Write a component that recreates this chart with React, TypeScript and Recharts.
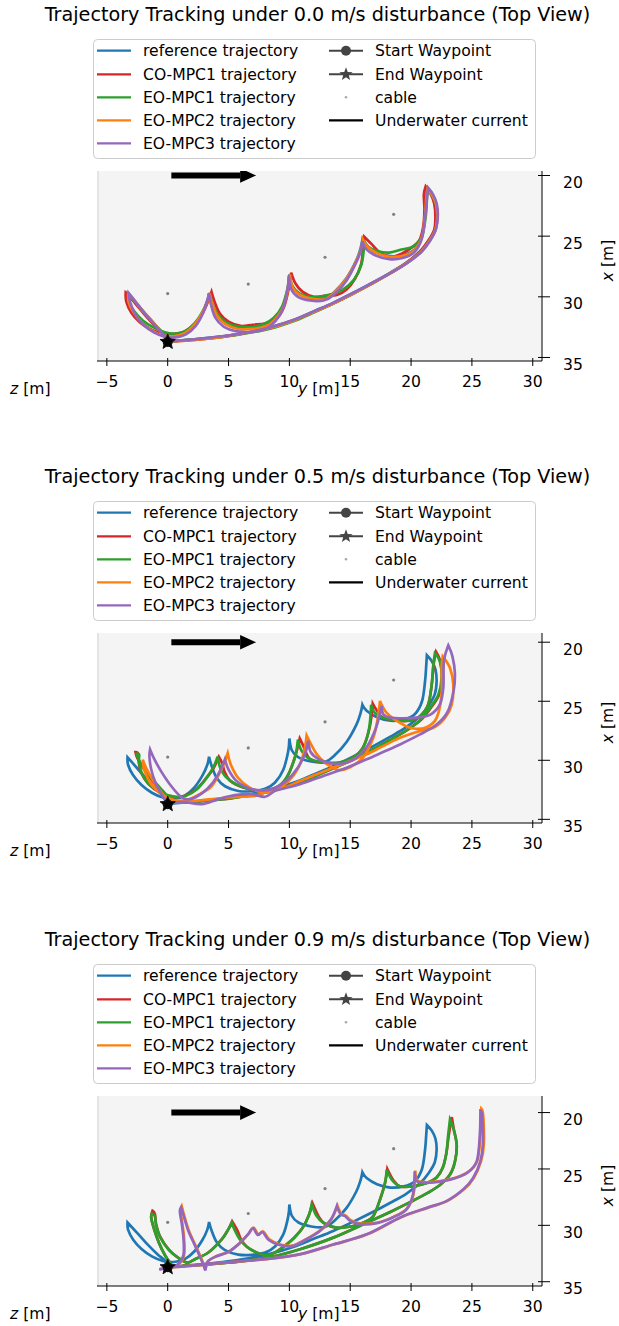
import React from 'react';
import { ComposedChart, Line, Scatter, XAxis, YAxis, CartesianGrid } from 'recharts';

// ---------- colours ----------
const BLUE = '#1f77b4';
const RED = '#d62728';
const GREEN = '#2ca02c';
const ORANGE = '#ff7f0e';
const PURPLE = '#9467bd';
const FONT = "'DejaVu Sans', 'Liberation Sans', sans-serif";
const LINE_W = 2.7;

// ---------- axis ticks ----------
const Y_TICKS = [-5, 0, 5, 10, 15, 20, 25, 30];
const X_TICKS = [20, 25, 30, 35];

// ---------- fixed scene elements, [y, x] in metres ----------
const cablePoints: [number, number][] = [[0.0, 29.73], [6.62, 28.95], [12.93, 26.74], [18.57, 23.2]];
const startWaypoint: [number, number][] = [[0.0, 33.72]];
const endWaypoint: [number, number][] = [[0.0, 33.72]];
const currentArrow: [number, number][] = [[0.3, 20.0], [5.95, 20.0]];

// ---------- reference trajectory (identical in every scenario) ----------
const referencePath: [number, number][] = [
  [0.0, 33.7], [-0.25, 33.1], [-0.8, 32.6], [-1.6, 31.75], [-2.4, 30.8], [-3.0, 30.1], [-3.3, 29.75],
  [-3.25, 30.4], [-2.85, 31.25], [-2.15, 32.1], [-1.3, 32.75], [-0.4, 33.15], [0.5, 33.25], [1.4, 33.0],
  [2.2, 32.3], [2.85, 31.3], [3.25, 30.4], [3.4, 29.7],
  [3.62, 30.5], [4.03, 31.5], [4.71, 32.2], [5.8, 32.6], [6.9, 32.62], [8.0, 32.42], [8.82, 31.88],
  [9.5, 30.8], [9.9, 29.25], [10.0, 28.15],
  [10.2, 29.15], [10.75, 29.75], [11.8, 30.1], [12.9, 30.15], [13.7, 29.6], [14.7, 28.45], [15.5, 27.0],
  [15.85, 26.0], [16.0, 25.3],
  [16.35, 25.8], [17.2, 26.35], [18.3, 26.65], [19.4, 26.55], [20.3, 26.1], [20.9, 25.0], [21.15, 23.3],
  [21.25, 21.9], [21.3, 21.1],
  [21.7, 21.6], [22.0, 22.3], [22.1, 23.3], [21.95, 24.4], [21.45, 25.35], [20.75, 26.25],
  [19.6, 27.2], [18.3, 28.0], [16.9, 28.8], [15.3, 29.65], [13.6, 30.5], [12.0, 31.2], [10.5, 31.85],
  [8.5, 32.5], [6.5, 32.95], [4.5, 33.25], [2.2, 33.5], [0.0, 33.7],
];

// ---------- 0.0 m/s ----------
const coMpc1_00: [number, number][] = [
  [0.0, 33.7], [-0.3, 33.1], [-0.9, 32.55], [-1.7, 31.7], [-2.5, 30.75], [-3.1, 30.0], [-3.45, 29.65],
  [-3.4, 30.4], [-3.0, 31.3], [-2.3, 32.1], [-1.4, 32.7], [-0.5, 33.0], [0.4, 33.05], [1.3, 32.9],
  [2.2, 32.25], [2.9, 31.3], [3.35, 30.3], [3.6, 29.6],
  [3.85, 30.4], [4.3, 31.4], [5.0, 32.05], [6.0, 32.4], [7.0, 32.3], [8.0, 32.2], [8.9, 31.85],
  [9.55, 30.85], [9.95, 29.3], [10.15, 28.0],
  [10.5, 28.9], [11.1, 29.6], [12.0, 30.0], [13.0, 29.9], [13.9, 29.85], [14.7, 29.4], [15.4, 28.5],
  [15.9, 27.3], [16.05, 26.0], [16.15, 25.05],
  [16.8, 25.7], [17.5, 26.4], [18.4, 26.7], [19.3, 26.4], [20.1, 25.9], [20.7, 25.3], [21.0, 24.2],
  [21.1, 22.8], [21.05, 21.6], [21.2, 20.9],
  [21.6, 21.5], [21.9, 22.3], [22.0, 23.4], [21.9, 24.5], [21.4, 25.4], [20.7, 26.3],
  [19.6, 27.2], [18.3, 28.05], [16.9, 28.85], [15.3, 29.7], [13.6, 30.55], [12.0, 31.25], [10.5, 31.9],
  [8.5, 32.55], [6.5, 32.95], [4.5, 33.3], [2.2, 33.55], [0.0, 33.7],
];
const eoMpc1_00: [number, number][] = [
  [0.0, 33.7], [-0.2, 33.15], [-0.7, 32.65], [-1.5, 31.8], [-2.3, 30.85], [-2.95, 30.1], [-3.2, 29.8],
  [-3.15, 30.45], [-2.75, 31.2], [-2.05, 31.95], [-1.2, 32.5], [-0.3, 32.9], [0.5, 33.05], [1.4, 32.85],
  [2.2, 32.2], [2.85, 31.25], [3.25, 30.35], [3.45, 29.7],
  [3.65, 30.5], [4.1, 31.45], [4.8, 32.1], [5.8, 32.45], [6.9, 32.5], [7.9, 32.25], [8.7, 31.75],
  [9.4, 30.8], [9.85, 29.3], [10.0, 28.2],
  [10.25, 29.1], [10.8, 29.7], [11.6, 30.0], [12.5, 30.0], [13.4, 29.8], [14.4, 29.4], [15.3, 28.6],
  [15.9, 27.4], [16.1, 26.2], [16.1, 25.3],
  [16.5, 25.9], [17.3, 26.25], [18.2, 26.35], [19.2, 26.1], [20.2, 25.85], [20.9, 25.0], [21.2, 23.4],
  [21.3, 22.0], [21.35, 21.2],
  [21.75, 21.7], [22.05, 22.4], [22.15, 23.4], [22.0, 24.5], [21.5, 25.4], [20.8, 26.3],
  [19.6, 27.25], [18.3, 28.05], [16.9, 28.85], [15.3, 29.7], [13.6, 30.55], [12.0, 31.3], [10.5, 31.95],
  [8.5, 32.6], [6.5, 33.0], [4.5, 33.3], [2.2, 33.5], [0.0, 33.7],
];
const eoMpc2_00: [number, number][] = [
  [0.0, 33.7], [-0.5, 33.0], [-0.9, 32.45], [-1.35, 31.9], [-2.15, 31.05], [-2.95, 30.0], [-3.25, 29.75],
  [-3.2, 30.45], [-2.8, 31.3], [-2.1, 32.15], [-1.25, 32.8], [-0.35, 33.2], [0.5, 33.25], [1.4, 33.0],
  [2.2, 32.3], [2.85, 31.3], [3.25, 30.4], [3.45, 29.7],
  [3.65, 30.55], [4.05, 31.55], [4.75, 32.25], [5.8, 32.65], [6.9, 32.65], [8.0, 32.45], [8.8, 31.9],
  [9.5, 30.85], [9.9, 29.3], [10.05, 28.15],
  [10.25, 29.2], [10.8, 29.8], [11.8, 30.15], [12.9, 30.2], [13.7, 29.65], [14.7, 28.5], [15.5, 27.05],
  [15.9, 26.0], [16.05, 25.3],
  [16.4, 25.85], [17.2, 26.4], [18.3, 26.7], [19.4, 26.6], [20.3, 26.15], [20.9, 25.05], [21.15, 23.3],
  [21.25, 21.9], [21.35, 21.1],
  [21.75, 21.65], [22.05, 22.35], [22.15, 23.35], [22.0, 24.45], [21.5, 25.4], [20.8, 26.3],
  [19.6, 27.25], [18.3, 28.05], [16.9, 28.85], [15.3, 29.7], [13.6, 30.55], [12.0, 31.25], [10.5, 31.9],
  [8.5, 32.55], [6.5, 32.95], [4.5, 33.3], [2.2, 33.55], [0.0, 33.7],
];
const eoMpc3_00: [number, number][] = [
  [0.0, 33.75], [-0.3, 33.15], [-0.9, 32.5], [-1.7, 31.6], [-2.5, 30.6], [-3.0, 29.95], [-3.2, 29.7],
  [-3.1, 30.4], [-2.7, 31.4], [-2.0, 32.3], [-1.1, 32.95], [-0.2, 33.3], [0.6, 33.35], [1.5, 33.1],
  [2.3, 32.4], [2.9, 31.35], [3.25, 30.3], [3.4, 29.7],
  [3.55, 30.6], [3.9, 31.7], [4.6, 32.45], [5.7, 32.85], [6.9, 32.9], [8.0, 32.65], [8.85, 32.0],
  [9.5, 30.9], [9.85, 29.4], [9.95, 28.25],
  [10.15, 29.35], [10.7, 30.0], [11.7, 30.3], [12.8, 30.3], [13.7, 29.8], [14.7, 28.65], [15.5, 27.15],
  [15.9, 26.1], [16.0, 25.4],
  [16.3, 26.05], [17.1, 26.6], [18.2, 26.9], [19.3, 26.8], [20.3, 26.3], [20.9, 25.15], [21.15, 23.4],
  [21.3, 21.9], [21.4, 21.0],
  [21.8, 21.55], [22.1, 22.3], [22.2, 23.3], [22.05, 24.4], [21.55, 25.4], [20.85, 26.3],
  [19.7, 27.2], [18.3, 28.05], [16.9, 28.8], [15.3, 29.65], [13.6, 30.5], [12.0, 31.2], [10.5, 31.85],
  [8.5, 32.5], [6.5, 32.95], [4.5, 33.25], [2.2, 33.5], [0.0, 33.7],
];

// ---------- 0.5 m/s ----------
const coMpc1_05: [number, number][] = [
  [0.2, 33.65], [-0.2, 33.0], [-0.8, 32.3], [-1.5, 31.4], [-2.1, 30.5], [-2.5, 29.8], [-2.65, 29.3],
  [-2.45, 29.4], [-2.4, 30.0], [-2.2, 31.0], [-1.6, 32.0], [-0.6, 32.75], [0.5, 33.1], [1.4, 33.0],
  [2.3, 32.5], [3.1, 31.6], [3.75, 30.7], [4.2, 29.7],
  [4.5, 30.3], [4.65, 30.9], [5.1, 31.7], [6.2, 32.3], [7.6, 32.55], [8.95, 32.3], [9.8, 31.45],
  [10.45, 29.75], [10.85, 28.15],
  [11.15, 28.8], [11.35, 29.3], [11.7, 29.9], [12.8, 30.2], [14.2, 30.2], [15.25, 29.75], [16.05, 28.9],
  [16.6, 27.2], [16.85, 25.2],
  [17.2, 25.8], [17.7, 26.4], [18.8, 26.65], [19.9, 26.65], [20.75, 26.3], [21.4, 25.3], [21.7, 23.6],
  [21.85, 21.9], [22.05, 20.8],
  [22.4, 21.6], [22.55, 23.0], [22.3, 24.45], [21.6, 25.6], [20.9, 26.5],
  [19.8, 27.35], [18.5, 28.15], [17.1, 28.95], [15.5, 29.8], [13.8, 30.6], [12.2, 31.3], [10.6, 31.95],
  [8.6, 32.6], [6.6, 33.0], [4.6, 33.3], [2.3, 33.5], [0.3, 33.6],
];
const eoMpc1_05: [number, number][] = [
  [0.2, 33.65], [-0.1, 32.95], [-0.7, 32.25], [-1.5, 31.3], [-2.1, 30.45], [-2.45, 29.8], [-2.55, 29.45],
  [-2.35, 29.5], [-2.35, 30.1], [-2.15, 31.05], [-1.55, 32.0], [-0.5, 32.75], [0.6, 33.1], [1.5, 33.0],
  [2.4, 32.45], [3.15, 31.55], [3.75, 30.6], [4.1, 29.7],
  [4.4, 30.85], [5.1, 31.7], [6.2, 32.28], [7.6, 32.56], [8.96, 32.28], [9.78, 31.44], [10.46, 29.75],
  [10.7, 28.25],
  [11.0, 29.19], [11.69, 29.89], [12.79, 30.17], [14.16, 30.17], [15.25, 29.75], [16.07, 28.91],
  [16.55, 27.3], [16.72, 25.3],
  [17.03, 25.99], [17.72, 26.41], [18.82, 26.63], [19.91, 26.63], [20.73, 26.27], [21.41, 25.29],
  [21.69, 23.6], [21.83, 21.92], [21.96, 20.93],
  [22.37, 21.64], [22.51, 23.04], [22.24, 24.44], [21.55, 25.56], [20.9, 26.45],
  [19.8, 27.35], [18.5, 28.15], [17.1, 28.95], [15.5, 29.8], [13.8, 30.6], [12.2, 31.3], [10.6, 31.95],
  [8.6, 32.6], [6.6, 33.0], [4.6, 33.3], [2.3, 33.5], [0.3, 33.6],
];
const eoMpc2_05: [number, number][] = [
  [0.2, 33.6], [-0.5, 32.75], [-1.2, 31.7], [-1.75, 30.7], [-2.05, 29.95],
  [-1.9, 30.9], [-1.3, 32.1], [-0.4, 32.95], [0.6, 33.4], [1.6, 33.35], [2.4, 33.0], [3.6, 32.2],
  [4.4, 30.8], [4.93, 29.4],
  [5.2, 30.4], [5.8, 31.5], [6.7, 32.3], [7.8, 32.7], [8.9, 32.5], [9.9, 31.8], [10.7, 30.7],
  [11.2, 29.3], [11.42, 27.9],
  [12.24, 29.47], [13.06, 30.31], [14.02, 30.82], [14.98, 30.59], [16.07, 29.75], [16.9, 28.07],
  [17.25, 26.5], [17.45, 24.97],
  [18.0, 25.98], [19.09, 26.83], [20.18, 27.31], [21.28, 27.2], [22.1, 26.41], [22.51, 24.44],
  [22.51, 22.19], [22.6, 21.2],
  [23.2, 22.19], [23.47, 23.6], [23.34, 25.29], [22.79, 26.41], [21.83, 27.25], [20.46, 27.6],
  [19.09, 28.1], [17.7, 28.8], [16.35, 29.5], [15.0, 30.05], [13.61, 30.62], [12.2, 31.2],
  [10.87, 31.75], [9.5, 32.35], [8.0, 32.72], [7.17, 33.01], [5.0, 33.15], [2.24, 33.43], [0.2, 33.6],
];
const eoMpc3_05: [number, number][] = [
  [0.0, 33.7], [-0.5, 32.9], [-1.0, 31.9], [-1.35, 30.8], [-1.5, 29.7], [-1.45, 29.08],
  [-1.1, 29.9], [-0.5, 31.0], [0.3, 32.2], [1.1, 33.1], [1.8, 33.3], [2.8, 32.8], [3.7, 31.9],
  [4.3, 30.9], [4.7, 29.92],
  [5.0, 30.8], [5.6, 31.7], [6.5, 32.3], [7.6, 32.55], [8.7, 32.4], [9.8, 31.7], [10.7, 30.6],
  [11.3, 29.4], [11.55, 28.34],
  [11.75, 29.3], [12.4, 29.9], [13.4, 30.25], [14.5, 30.25], [15.5, 29.8], [16.4, 28.8], [17.1, 27.3],
  [17.45, 26.0], [17.58, 25.4],
  [17.72, 26.1], [18.27, 26.38], [19.36, 26.44], [20.46, 26.38], [21.55, 26.15], [22.37, 25.26],
  [22.65, 23.85], [22.7, 21.6], [23.06, 20.26],
  [23.4, 21.2], [23.6, 22.6], [23.5, 24.1], [23.0, 25.9], [22.1, 26.97], [20.73, 27.81],
  [19.09, 28.66], [17.7, 29.3], [16.35, 29.92], [15.0, 30.5], [13.61, 31.04], [12.2, 31.55],
  [10.87, 32.03], [9.7, 32.35], [8.82, 32.59], [8.0, 33.09], [6.9, 32.87], [5.53, 32.95],
  [4.16, 33.29], [2.79, 33.71], [1.15, 33.52], [-0.08, 33.71],
];

// ---------- 0.9 m/s ----------
const coMpc1_09: [number, number][] = [
  [0.3, 33.5], [-0.2, 32.7], [-0.7, 31.6], [-1.1, 30.4], [-1.35, 29.3], [-1.25, 28.7],
  [-1.05, 29.0], [-0.95, 29.9], [-0.6, 31.05], [0.1, 32.15], [0.9, 32.9], [1.6, 33.3], [2.24, 33.0],
  [3.34, 32.41], [4.44, 31.24], [4.98, 30.36], [5.3, 29.65],
  [5.75, 30.5], [6.0, 31.2], [6.5, 31.9], [7.3, 32.4], [8.2, 32.65], [8.9, 32.35], [9.7, 31.75],
  [10.4, 31.1], [11.1, 30.2], [11.6, 29.1], [11.9, 28.05],
  [12.4, 29.2], [12.85, 29.8], [13.89, 30.21], [15.25, 30.06], [16.2, 29.7], [16.9, 29.18],
  [17.45, 27.71], [17.86, 26.24], [18.05, 25.0],
  [18.55, 26.0], [19.1, 26.55], [20.18, 26.53], [21.28, 26.24], [22.1, 25.75], [22.6, 24.9],
  [22.9, 23.6], [23.1, 22.0], [23.35, 20.4],
  [23.5, 21.4], [23.75, 22.85], [23.61, 24.33], [23.2, 25.5], [22.4, 26.4], [21.4, 27.1],
  [20.0, 27.9], [18.5, 28.7], [16.35, 29.77], [13.61, 31.09], [10.87, 32.12], [8.5, 32.8],
  [6.0, 33.2], [3.5, 33.45], [1.2, 33.6],
];
const eoMpc1_09: [number, number][] = [
  [0.3, 33.5], [-0.2, 32.7], [-0.7, 31.6], [-1.1, 30.4], [-1.35, 29.4], [-1.3, 28.95],
  [-1.05, 29.2], [-0.95, 30.0], [-0.6, 31.1], [0.1, 32.2], [0.9, 32.9], [1.6, 33.3], [2.24, 33.0],
  [3.34, 32.41], [4.44, 31.24], [4.98, 30.36], [5.26, 29.77],
  [5.5, 30.4], [5.9, 31.2], [6.5, 31.9], [7.3, 32.4], [8.2, 32.65], [8.9, 32.35], [9.7, 31.75],
  [10.4, 31.1], [11.1, 30.2], [11.6, 29.1], [11.83, 28.15],
  [12.24, 29.18], [12.79, 29.77], [13.89, 30.21], [15.25, 30.06], [16.2, 29.7], [16.9, 29.18],
  [17.45, 27.71], [17.86, 26.24], [18.0, 25.06],
  [18.41, 25.94], [19.09, 26.53], [20.18, 26.53], [21.28, 26.24], [22.1, 25.75], [22.6, 24.9],
  [22.9, 23.6], [23.05, 22.0], [23.2, 20.6],
  [23.47, 21.38], [23.75, 22.85], [23.61, 24.33], [23.2, 25.5], [22.4, 26.4], [21.4, 27.1],
  [20.0, 27.9], [18.5, 28.7], [16.35, 29.77], [13.61, 31.09], [10.87, 32.12], [8.5, 32.8],
  [6.0, 33.2], [3.5, 33.45], [1.2, 33.6],
];
const eoMpc2_09: [number, number][] = [
  [-0.7, 33.88], [0.2, 33.72], [0.95, 33.4], [1.35, 32.6], [1.35, 31.2], [1.2, 29.8], [1.05, 28.8],
  [1.15, 28.3],
  [1.4, 29.3], [1.75, 30.5], [2.25, 31.7], [2.75, 32.9], [3.1, 33.95],
  [3.35, 33.15], [4.05, 32.72], [5.05, 32.32], [5.95, 31.55], [6.65, 30.75], [7.05, 30.2],
  [7.45, 30.8], [7.85, 30.55], [8.35, 31.25], [9.25, 31.7], [10.25, 31.8], [11.35, 31.25],
  [12.55, 30.45], [13.45, 29.45], [13.95, 28.25],
  [14.25, 28.95], [14.65, 29.15], [15.05, 29.55], [15.85, 29.85], [17.25, 29.75], [18.55, 29.25],
  [19.65, 28.55], [20.2, 27.25], [20.35, 25.15],
  [20.45, 25.95], [20.85, 26.15], [21.85, 26.15], [23.25, 25.9], [24.65, 25.3], [25.45, 24.25],
  [25.7, 21.95], [25.78, 19.65],
  [25.93, 20.3], [25.98, 22.8], [25.75, 24.3], [25.15, 25.8], [24.35, 26.8], [22.95, 27.85],
  [21.35, 28.45], [19.15, 29.3], [16.4, 30.8], [13.65, 31.7], [10.95, 32.55], [8.05, 33.0],
  [4.65, 33.3], [1.85, 33.6], [-0.05, 33.75],
];
const eoMpc3_09: [number, number][] = [
  [-0.7, 33.9], [0.2, 33.75], [0.9, 33.4], [1.3, 32.6], [1.3, 31.2], [1.15, 29.8], [1.0, 28.8],
  [1.1, 28.4],
  [1.35, 29.3], [1.7, 30.5], [2.2, 31.7], [2.7, 32.9], [3.1, 34.0],
  [3.3, 33.2], [4.0, 32.75], [5.0, 32.35], [5.9, 31.6], [6.6, 30.8], [7.0, 30.25],
  [7.4, 30.85], [7.8, 30.6], [8.3, 31.3], [9.2, 31.75], [10.2, 31.85], [11.3, 31.3], [12.5, 30.5],
  [13.4, 29.5], [13.9, 28.3],
  [14.2, 29.0], [14.6, 29.2], [15.0, 29.6], [15.8, 29.9], [17.2, 29.8], [18.5, 29.3], [19.6, 28.6],
  [20.15, 27.3], [20.3, 25.2],
  [20.4, 26.0], [20.8, 26.2], [21.8, 26.2], [23.2, 25.95], [24.6, 25.35], [25.4, 24.3], [25.65, 22.0],
  [25.7, 19.8],
  [25.85, 20.3], [25.9, 22.8], [25.7, 24.3], [25.1, 25.8], [24.3, 26.8], [22.9, 27.85], [21.3, 28.45],
  [19.1, 29.3], [16.35, 30.8], [13.6, 31.7], [10.9, 32.55], [8.0, 33.0], [4.6, 33.3], [1.8, 33.6],
  [-0.1, 33.75],
];

// ---------- legend text ----------
const trajectoryLegend = [
  { name: 'reference trajectory', color: BLUE },
  { name: 'CO-MPC1 trajectory', color: RED },
  { name: 'EO-MPC1 trajectory', color: GREEN },
  { name: 'EO-MPC2 trajectory', color: ORANGE },
  { name: 'EO-MPC3 trajectory', color: PURPLE },
];
const markerLegend = ['Start Waypoint', 'End Waypoint', 'cable', 'Underwater current'];

type Pt = { y: number; x: number };
const toPts = (arr: [number, number][]): Pt[] => arr.map(([y, x]) => ({ y, x }));

const scenarios = [
  {
    title: 'Trajectory Tracking under 0.0 m/s disturbance (Top View)',
    top: 0,
    xDomain: [19.63, 35.29],
    runs: [coMpc1_00, eoMpc1_00, eoMpc2_00, eoMpc3_00],
  },
  {
    title: 'Trajectory Tracking under 0.5 m/s disturbance (Top View)',
    top: 462,
    xDomain: [19.22, 35.31],
    runs: [coMpc1_05, eoMpc1_05, eoMpc2_05, eoMpc3_05],
  },
  {
    title: 'Trajectory Tracking under 0.9 m/s disturbance (Top View)',
    top: 925,
    xDomain: [18.53, 35.38],
    runs: [coMpc1_09, eoMpc1_09, eoMpc2_09, eoMpc3_09],
  },
];

// Catmull-Rom style curve that keeps sharp turns (cusps) as corners.
const cuspCurve: any = (context: any) => {
  let pts: number[][] = [];
  return {
    areaStart() {},
    areaEnd() {},
    lineStart() {
      pts = [];
    },
    point(x: number, y: number) {
      pts.push([+x, +y]);
    },
    lineEnd() {
      const n = pts.length;
      if (!n) return;
      const tang = pts.map((p, i) => {
        const a = pts[i - 1] || p;
        const b = pts[i + 1] || p;
        const d1x = p[0] - a[0], d1y = p[1] - a[1];
        const d2x = b[0] - p[0], d2y = b[1] - p[1];
        const l1 = Math.hypot(d1x, d1y), l2 = Math.hypot(d2x, d2y);
        if (l1 > 0 && l2 > 0 && d1x * d2x + d1y * d2y < -0.45 * l1 * l2) return [0, 0];
        return [(b[0] - a[0]) / 6, (b[1] - a[1]) / 6];
      });
      context.moveTo(pts[0][0], pts[0][1]);
      for (let i = 0; i < n - 1; i++) {
        const p1 = pts[i], p2 = pts[i + 1];
        context.bezierCurveTo(
          p1[0] + tang[i][0], p1[1] + tang[i][1],
          p2[0] - tang[i + 1][0], p2[1] - tang[i + 1][1],
          p2[0], p2[1],
        );
      }
    },
  };
};

const starPath = (cx: number, cy: number, r: number) => {
  const inner = r * 0.42;
  let d = '';
  for (let i = 0; i < 10; i++) {
    const rad = i % 2 === 0 ? r : inner;
    const ang = -Math.PI / 2 + (i * Math.PI) / 5;
    d += `${i === 0 ? 'M' : 'L'}${(cx + rad * Math.cos(ang)).toFixed(2)},${(cy + rad * Math.sin(ang)).toFixed(2)}`;
  }
  return d + 'Z';
};

const fmt = (v: number) => (v < 0 ? `\u2212${Math.abs(v)}` : `${v}`);

const BottomTick = (props: any) => {
  const { x, y, payload } = props;
  return (
    <g>
      <line x1={x} x2={x} y1={y - 3} y2={y + 5} stroke="#000" strokeWidth={1} />
      <text x={x} y={y + 26} textAnchor="middle" fontSize={15.6} fontFamily={FONT} fill="#000">
        {fmt(payload.value)}
      </text>
    </g>
  );
};

const RightTick = (props: any) => {
  const { x, y, payload } = props;
  return (
    <g>
      <line x1={x - 4} x2={x + 8} y1={y} y2={y} stroke="#000" strokeWidth={1} />
      <text x={x + 21} y={y + 12.6} textAnchor="start" fontSize={15.6} fontFamily={FONT} fill="#000">
        {fmt(payload.value)}
      </text>
    </g>
  );
};

const arrowHead = (props: any) => {
  const { cx, cy, index } = props;
  if (index !== 1 || cx == null) return <g key={`ah-${index}`} />;
  return <path key={`ah-${index}`} d={`M${cx},${cy - 7.3}L${cx + 16},${cy}L${cx},${cy + 7.3}Z`} fill="#000" />;
};

const Overlay = ({ title }: { title: string }) => {
  const rowsY = [50.7, 74.3, 97.3, 120.3, 143.3];
  return (
    <svg width={619} height={462} style={{ position: 'absolute', left: 0, top: 0, pointerEvents: 'none' }}>
      <text x={317.5} y={21} textAnchor="middle" fontSize={19.2} fontFamily={FONT} fill="#000">
        {title}
      </text>
      <rect x={93.5} y={39.5} width={442} height={119} rx={4} fill="#fff" fillOpacity={0.8} stroke="#cccccc" />
      {trajectoryLegend.map((s, i) => (
        <g key={s.name}>
          <line x1={97} x2={131} y1={rowsY[i]} y2={rowsY[i]} stroke={s.color} strokeWidth={2.2} />
          <text x={143} y={rowsY[i] + 5.6} fontSize={15.6} fontFamily={FONT} fill="#000">
            {s.name}
          </text>
        </g>
      ))}
      <line x1={329} x2={363} y1={rowsY[0]} y2={rowsY[0]} stroke="#444" strokeWidth={2} />
      <circle cx={346} cy={rowsY[0]} r={5} fill="#444" />
      <line x1={329} x2={363} y1={rowsY[1]} y2={rowsY[1]} stroke="#444" strokeWidth={2} />
      <path d={starPath(346, rowsY[1], 7)} fill="#444" />
      <circle cx={346} cy={rowsY[2]} r={1.3} fill="#aaa" />
      <line x1={329} x2={363} y1={rowsY[3]} y2={rowsY[3]} stroke="#000" strokeWidth={2.2} />
      {markerLegend.map((name, i) => (
        <text key={name} x={375} y={rowsY[i] + 5.6} fontSize={15.6} fontFamily={FONT} fill="#000">
          {name}
        </text>
      ))}
      <text x={10} y={394} fontSize={15.6} fontFamily={FONT} fill="#000">
        <tspan fontStyle="italic">z</tspan> [m]
      </text>
      <text x={298} y={394} fontSize={15.6} fontFamily={FONT} fill="#000">
        <tspan fontStyle="italic">y</tspan> [m]
      </text>
      <text
        x={608}
        y={260.5}
        dy="0.35em"
        textAnchor="middle"
        transform="rotate(-90 608 260.5)"
        fontSize={15.6}
        fontFamily={FONT}
        fill="#000"
      >
        <tspan fontStyle="italic">x</tspan> [m]
      </text>
    </svg>
  );
};

const runColors = [RED, GREEN, ORANGE, PURPLE];

const Panel = ({ cfg }: { cfg: (typeof scenarios)[number] }) => (
  <div style={{ position: 'absolute', left: 0, top: cfg.top, width: 619, height: 462 }}>
    <ComposedChart width={619} height={462} margin={{ top: 171, right: 0, bottom: 61, left: 97 }}>
      <CartesianGrid
        horizontal={false}
        vertical
        verticalPoints={[98]}
        stroke="#e4e4e4"
        strokeWidth={2}
        fill="#f4f4f4"
      />
      <XAxis
        type="number"
        dataKey="y"
        domain={[-5.81, 30.76]}
        allowDataOverflow
        ticks={Y_TICKS}
        interval={0}
        height={40}
        tickSize={0}
        tickMargin={0}
        tickLine={false}
        axisLine={{ stroke: '#000', strokeWidth: 1 }}
        tick={(p: any) => <BottomTick {...p} />}
      />
      <YAxis
        type="number"
        dataKey="x"
        orientation="right"
        reversed
        domain={cfg.xDomain}
        allowDataOverflow
        ticks={X_TICKS}
        interval={0}
        width={77}
        tickSize={0}
        tickMargin={0}
        tickLine={false}
        axisLine={{ stroke: '#000', strokeWidth: 1 }}
        tick={(p: any) => <RightTick {...p} />}
      />
      <Line
        data={toPts(referencePath)}
        dataKey="x"
        stroke={BLUE}
        strokeWidth={LINE_W}
        dot={false}
        type={cuspCurve}
        isAnimationActive={false}
      />
      {cfg.runs.map((run, i) => (
        <Line
          key={i}
          data={toPts(run)}
          dataKey="x"
          stroke={runColors[i]}
          strokeWidth={LINE_W}
          dot={false}
          type={cuspCurve}
          isAnimationActive={false}
        />
      ))}
      <Line
        data={toPts(currentArrow)}
        dataKey="x"
        stroke="#000"
        strokeWidth={6}
        type="linear"
        dot={arrowHead}
        isAnimationActive={false}
      />
      <Scatter
        data={toPts(cablePoints)}
        isAnimationActive={false}
        shape={(p: any) => <circle cx={p.cx} cy={p.cy} r={1.6} fill="#808080" />}
      />
      <Scatter
        data={toPts(startWaypoint)}
        isAnimationActive={false}
        shape={(p: any) => <circle cx={p.cx} cy={p.cy} r={5} fill="#111" />}
      />
      <Scatter
        data={toPts(endWaypoint)}
        isAnimationActive={false}
        shape={(p: any) => <path d={starPath(p.cx, p.cy, 8)} fill="#000" stroke="#111" strokeWidth={1} />}
      />
    </ComposedChart>
    <Overlay title={cfg.title} />
  </div>
);

export default function App() {
  return (
    <div style={{ position: 'absolute', left: 0, top: 0, width: 619, height: 1326, overflow: 'hidden', background: '#fff' }}>
      {scenarios.map((cfg) => (
        <Panel key={cfg.title} cfg={cfg} />
      ))}
    </div>
  );
}
